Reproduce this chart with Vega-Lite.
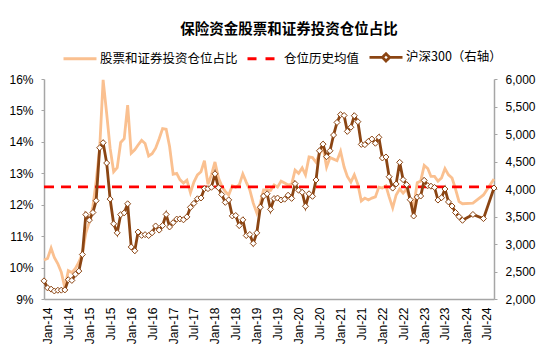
{
  "$schema": "https://vega.github.io/schema/vega-lite/v6.json",
  "width": 450,
  "height": 220,
  "padding": {"left": 8, "right": 13, "top": 21, "bottom": 5},
  "background": "white",
  "title": {"text": "保险资金股票和证券投资仓位占比", "font": "Noto Sans CJK SC", "fontSize": 14.5, "fontWeight": "bold", "color": "#000", "anchor": "middle", "dx": 20, "offset": 2},
  "config": {
    "view": {"stroke": null},
    "axis": {"labelFont": "Liberation Sans", "labelFontSize": 12, "labelColor": "#000", "domainColor": "#A6A6A6", "domainWidth": 1.5, "tickColor": "#A6A6A6", "tickSize": 3, "grid": false, "title": null, "labelOverlap": false}
  },
  "data": {"values": [
    {"d":"2013/12/01","p":10.24,"h":2330},
    {"d":"2014/01/01","p":10.29,"h":2202},
    {"d":"2014/02/01","p":10.62,"h":2179},
    {"d":"2014/03/01","p":10.32,"h":2146},
    {"d":"2014/04/01","p":10.12,"h":2159},
    {"d":"2014/05/01","p":9.85,"h":2161},
    {"d":"2014/06/01","p":9.35,"h":2165},
    {"d":"2014/07/01","p":9.9,"h":2350},
    {"d":"2014/08/01","p":9.84,"h":2338},
    {"d":"2014/09/01","p":9.97,"h":2451},
    {"d":"2014/10/01","p":10.17,"h":2508},
    {"d":"2014/11/01","p":10.45,"h":2809},
    {"d":"2014/12/01","p":11.1,"h":3534},
    {"d":"2015/01/01","p":11.45,"h":3434},
    {"d":"2015/02/01","p":11.95,"h":3573},
    {"d":"2015/03/01","p":12.75,"h":3787},
    {"d":"2015/04/01","p":13.8,"h":4750},
    {"d":"2015/05/01","p":15.97,"h":4841},
    {"d":"2015/06/01","p":14.9,"h":4473},
    {"d":"2015/07/01","p":13.8,"h":3817},
    {"d":"2015/08/01","p":13.05,"h":3367},
    {"d":"2015/09/01","p":13.18,"h":3203},
    {"d":"2015/10/01","p":13.98,"h":3534},
    {"d":"2015/11/01","p":14.1,"h":3566},
    {"d":"2015/12/01","p":15.17,"h":3731},
    {"d":"2016/01/01","p":13.64,"h":2946},
    {"d":"2016/02/01","p":13.75,"h":2877},
    {"d":"2016/03/01","p":13.9,"h":3218},
    {"d":"2016/04/01","p":14.05,"h":3157},
    {"d":"2016/05/01","p":13.95,"h":3170},
    {"d":"2016/06/01","p":13.55,"h":3154},
    {"d":"2016/07/01","p":13.62,"h":3204},
    {"d":"2016/08/01","p":13.8,"h":3328},
    {"d":"2016/09/01","p":14.1,"h":3253},
    {"d":"2016/10/01","p":14.42,"h":3336},
    {"d":"2016/11/01","p":14.4,"h":3538},
    {"d":"2016/12/01","p":13.85,"h":3310},
    {"d":"2017/01/01","p":12.97,"h":3388},
    {"d":"2017/02/01","p":13.0,"h":3453},
    {"d":"2017/03/01","p":12.8,"h":3456},
    {"d":"2017/04/01","p":12.69,"h":3440},
    {"d":"2017/05/01","p":12.78,"h":3493},
    {"d":"2017/06/01","p":12.38,"h":3667},
    {"d":"2017/07/01","p":12.72,"h":3738},
    {"d":"2017/08/01","p":12.95,"h":3822},
    {"d":"2017/09/01","p":13.05,"h":3837},
    {"d":"2017/10/01","p":13.4,"h":4007},
    {"d":"2017/11/01","p":12.65,"h":4006},
    {"d":"2017/12/01","p":12.95,"h":4031},
    {"d":"2018/01/01","p":13.36,"h":4276},
    {"d":"2018/02/01","p":12.85,"h":4024},
    {"d":"2018/03/01","p":12.6,"h":3899},
    {"d":"2018/04/01","p":12.42,"h":3757},
    {"d":"2018/05/01","p":12.31,"h":3802},
    {"d":"2018/06/01","p":12.6,"h":3511},
    {"d":"2018/07/01","p":12.56,"h":3518},
    {"d":"2018/08/01","p":12.63,"h":3335},
    {"d":"2018/09/01","p":12.98,"h":3439},
    {"d":"2018/10/01","p":12.72,"h":3154},
    {"d":"2018/11/01","p":12.47,"h":3173},
    {"d":"2018/12/01","p":12.05,"h":3011},
    {"d":"2019/01/01","p":11.74,"h":3202},
    {"d":"2019/02/01","p":12.05,"h":3669},
    {"d":"2019/03/01","p":12.47,"h":3872},
    {"d":"2019/04/01","p":12.47,"h":3913},
    {"d":"2019/05/01","p":12.45,"h":3630},
    {"d":"2019/06/01","p":12.63,"h":3826},
    {"d":"2019/07/01","p":12.56,"h":3835},
    {"d":"2019/08/01","p":12.75,"h":3800},
    {"d":"2019/09/01","p":12.69,"h":3815},
    {"d":"2019/10/01","p":12.63,"h":3887},
    {"d":"2019/11/01","p":12.65,"h":3829},
    {"d":"2019/12/01","p":13.1,"h":4097},
    {"d":"2020/01/01","p":13.0,"h":3977},
    {"d":"2020/02/01","p":13.17,"h":3940},
    {"d":"2020/03/01","p":12.95,"h":3686},
    {"d":"2020/04/01","p":13.52,"h":3913},
    {"d":"2020/05/01","p":13.5,"h":3867},
    {"d":"2020/06/01","p":13.35,"h":4164},
    {"d":"2020/07/01","p":13.62,"h":4695},
    {"d":"2020/08/01","p":13.84,"h":4816},
    {"d":"2020/09/01","p":13.2,"h":4587},
    {"d":"2020/10/01","p":13.5,"h":4695},
    {"d":"2020/11/01","p":13.45,"h":4981},
    {"d":"2020/12/01","p":13.4,"h":5211},
    {"d":"2021/01/01","p":13.7,"h":5352},
    {"d":"2021/02/01","p":13.2,"h":5337},
    {"d":"2021/03/01","p":12.9,"h":5048},
    {"d":"2021/04/01","p":12.72,"h":5123},
    {"d":"2021/05/01","p":12.95,"h":5332},
    {"d":"2021/06/01","p":12.65,"h":5224},
    {"d":"2021/07/01","p":12.12,"h":4811},
    {"d":"2021/08/01","p":12.21,"h":4806},
    {"d":"2021/09/01","p":12.15,"h":4866},
    {"d":"2021/10/01","p":12.21,"h":4909},
    {"d":"2021/11/01","p":12.25,"h":4832},
    {"d":"2021/12/01","p":12.56,"h":4940},
    {"d":"2022/01/01","p":12.53,"h":4564},
    {"d":"2022/02/01","p":12.6,"h":4582},
    {"d":"2022/03/01","p":12.25,"h":4223},
    {"d":"2022/04/01","p":11.9,"h":4016},
    {"d":"2022/05/01","p":12.31,"h":4091},
    {"d":"2022/06/01","p":12.5,"h":4485},
    {"d":"2022/07/01","p":12.37,"h":4170},
    {"d":"2022/08/01","p":12.5,"h":4079},
    {"d":"2022/09/01","p":12.15,"h":3805},
    {"d":"2022/10/01","p":11.93,"h":3509},
    {"d":"2022/11/01","p":12.7,"h":3854},
    {"d":"2022/12/01","p":12.75,"h":3872},
    {"d":"2023/01/01","p":13.25,"h":4157},
    {"d":"2023/02/01","p":13.15,"h":4061},
    {"d":"2023/03/01","p":12.9,"h":4051},
    {"d":"2023/04/01","p":12.9,"h":4029},
    {"d":"2023/05/01","p":12.75,"h":3799},
    {"d":"2023/06/01","p":12.85,"h":3842},
    {"d":"2023/07/01","p":13.15,"h":4000},
    {"d":"2023/08/01","p":12.95,"h":3765},
    {"d":"2023/09/01","p":12.85,"h":3690},
    {"d":"2023/10/01","p":12.5,"h":3573},
    {"d":"2023/11/01","p":12.1,"h":3496},
    {"d":"2023/12/01","p":12.03,"h":3431},
    {"d":"2024/03/01","p":12.05,"h":3537},
    {"d":"2024/06/01","p":12.31,"h":3462},
    {"d":"2024/09/01","p":12.82,"h":4018}
  ]},
  "encoding": {
    "x": {"field": "d", "type": "temporal", "scale": {"nice": false}, "axis": {"format": "%b-%y", "labelAngle": -90, "labelPadding": 8, "tickSize": 0, "labelOverlap": false, "values": [
      {"year":2014,"month":1,"date":1},{"year":2014,"month":7,"date":1},
      {"year":2015,"month":1,"date":1},{"year":2015,"month":7,"date":1},
      {"year":2016,"month":1,"date":1},{"year":2016,"month":7,"date":1},
      {"year":2017,"month":1,"date":1},{"year":2017,"month":7,"date":1},
      {"year":2018,"month":1,"date":1},{"year":2018,"month":7,"date":1},
      {"year":2019,"month":1,"date":1},{"year":2019,"month":7,"date":1},
      {"year":2020,"month":1,"date":1},{"year":2020,"month":7,"date":1},
      {"year":2021,"month":1,"date":1},{"year":2021,"month":7,"date":1},
      {"year":2022,"month":1,"date":1},{"year":2022,"month":7,"date":1},
      {"year":2023,"month":1,"date":1},{"year":2023,"month":7,"date":1},
      {"year":2024,"month":1,"date":1},{"year":2024,"month":7,"date":1}
    ]}}
  },
  "layer": [
    {
      "encoding": {
        "y": {"type": "quantitative", "scale": {"domain": [9, 16]}, "axis": {"values": [9,10,11,12,13,14,15,16], "labelExpr": "datum.value + '%'", "labelPadding": 8}}
      },
      "layer": [
        {
          "mark": {"type": "line", "strokeWidth": 2.8},
          "encoding": {
            "y": {"field": "p"},
            "color": {
              "datum": "股票和证券投资仓位占比", "type": "nominal",
              "scale": {"domain": ["股票和证券投资仓位占比", "仓位历史均值", "沪深300（右轴）"], "range": ["#FAC090", "#FF0000", "#8B4513"]},
              "legend": {
                "orient": "none", "legendX": 18, "legendY": -40, "direction": "horizontal", "title": null,
                "symbolType": "stroke", "symbolSize": 1089, "symbolStrokeWidth": 2.8,
                "labelFont": "Noto Sans CJK SC", "labelFontSize": 12.5, "labelColor": "#000",
                "columnPadding": 3, "labelOffset": 2,
                "encode": {"symbols": {"update": {
                  "shape": {"signal": "datum.value === '沪深300（右轴）' ? 'M-1,0H-0.22M0.22,0H1M0,-0.22L0.22,0L0,0.22L-0.22,0Z' : 'stroke'"},
                  "strokeDash": {"signal": "datum.value === '仓位历史均值' ? [9,9] : [1,0]"},
                  "fill": {"signal": "datum.value === '沪深300（右轴）' ? 'white' : 'transparent'"}
                }}}
              }
            }
          }
        },
        {
          "mark": {"type": "line", "strokeWidth": 2.8, "strokeDash": [10, 7]},
          "encoding": {
            "y": {"datum": 12.57},
            "color": {"datum": "仓位历史均值", "type": "nominal"}
          }
        }
      ]
    },
    {
      "encoding": {
        "y": {"field": "h", "type": "quantitative", "scale": {"domain": [2000, 6000]}, "axis": {"orient": "right", "values": [2000,2500,3000,3500,4000,4500,5000,5500,6000], "labelExpr": "format(datum.value, ',')", "labelPadding": 8}}
      },
      "layer": [
        {
          "mark": {"type": "line", "strokeWidth": 2.8},
          "encoding": {
            "color": {"datum": "沪深300（右轴）", "type": "nominal"}
          }
        },
        {
          "mark": {"type": "point", "shape": "diamond", "filled": true, "fill": "white", "stroke": "#8B4513", "strokeWidth": 1, "size": 36, "opacity": 1}
        }
      ]
    }
  ],
  "resolve": {"scale": {"y": "independent"}}
}
